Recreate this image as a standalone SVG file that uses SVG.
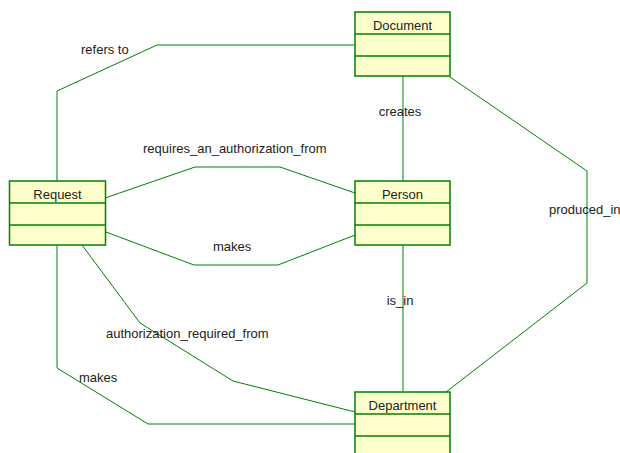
<svg xmlns="http://www.w3.org/2000/svg" width="620" height="453" viewBox="0 0 620 453">
<style>
.box{fill:#FFFFCC;stroke:#008000;stroke-width:1.5}
.div{stroke:#008000;stroke-width:1.5}
.ln{fill:none;stroke:#008000;stroke-width:1}
text{font-family:"Liberation Sans",Arial,sans-serif;font-size:13px;fill:#222}
.t{text-anchor:middle}
</style>
<rect width="620" height="453" fill="#fff"/>
<g id="connectors">
<polyline class="ln" points="57,181 57,91 157,45 355,45"/>
<line class="ln" x1="403" y1="76" x2="403" y2="181"/>
<polyline class="ln" points="105,198 195,167 280,167 355,193"/>
<polyline class="ln" points="106,232 194,265 278,265 355,235"/>
<polyline class="ln" points="57,245 57,368 148,424 355,424"/>
<polyline class="ln" points="82,245 140,323 233,381 355,412"/>
<line class="ln" x1="403" y1="245" x2="403" y2="391"/>
<polyline class="ln" points="450,77 587,171 587,283 446,392"/>
<text x="81" y="54">refers to</text>
<text class="t" x="400" y="116">creates</text>
<text x="143" y="153">requires_an_authorization_from</text>
<text x="213" y="251">makes</text>
<text x="106" y="338">authorization_required_from</text>
<text x="79" y="382">makes</text>
<text class="t" x="400" y="305">is_in</text>
<text x="549" y="214">produced_in</text>
</g>
<g id="Document">
<rect class="box" x="355" y="12" width="95" height="64"/>
<line class="div" x1="355" y1="34" x2="450" y2="34"/>
<line class="div" x1="355" y1="56" x2="450" y2="56"/>
<text class="t" x="402.5" y="30">Document</text>
</g>
<g id="Request">
<rect class="box" x="9.5" y="181" width="96" height="64"/>
<line class="div" x1="9.5" y1="203" x2="105.5" y2="203"/>
<line class="div" x1="9.5" y1="225" x2="105.5" y2="225"/>
<text class="t" x="57.5" y="199">Request</text>
</g>
<g id="Person">
<rect class="box" x="355" y="181" width="95" height="64"/>
<line class="div" x1="355" y1="203" x2="450" y2="203"/>
<line class="div" x1="355" y1="225" x2="450" y2="225"/>
<text class="t" x="402.5" y="199">Person</text>
</g>
<g id="Department">
<rect class="box" x="355" y="392" width="95" height="64"/>
<line class="div" x1="355" y1="414" x2="450" y2="414"/>
<line class="div" x1="355" y1="436" x2="450" y2="436"/>
<text class="t" x="402.5" y="410">Department</text>
</g>
</svg>
